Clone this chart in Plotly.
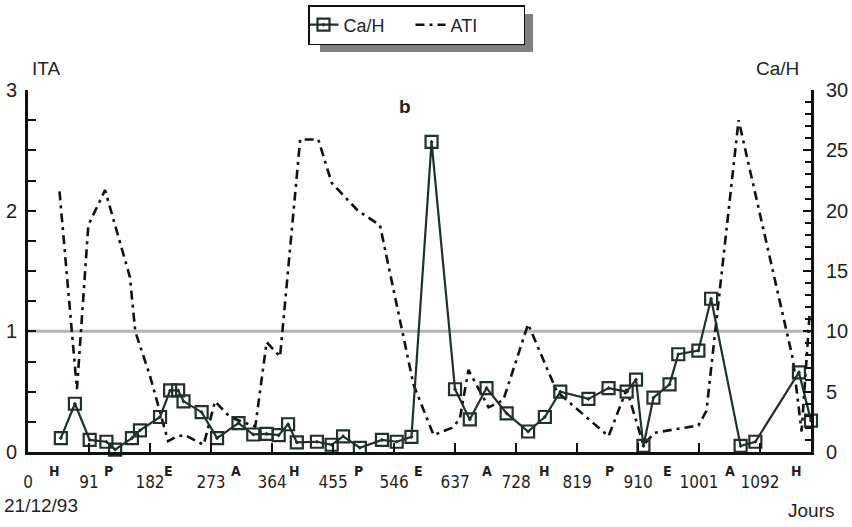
import plotly.graph_objects as go

# ---------------- data ----------------
ca_days = [49, 70, 92, 117, 130, 155, 167, 197, 212, 224, 232, 259, 282, 314, 336, 356,
           374, 388, 401, 431, 453, 470, 495, 528, 550, 572, 602, 637, 659, 684, 714, 746,
           771, 794, 836, 866, 893, 907, 918, 933, 957, 970, 1000, 1019, 1063, 1085, 1150, 1168]
ca_vals = [1.15, 4.0, 1.0, 0.85, 0.2, 1.15, 1.8, 2.9, 5.1, 5.1, 4.2, 3.3, 1.15, 2.4, 1.45, 1.5,
           1.4, 2.3, 0.8, 0.85, 0.6, 1.3, 0.35, 1.0, 0.85, 1.25, 25.7, 5.2, 2.7, 5.3, 3.2, 1.7,
           2.9, 5.0, 4.4, 5.3, 5.0, 6.0, 0.5, 4.5, 5.6, 8.1, 8.4, 12.7, 0.5, 0.85, 6.6, 2.6]

ati_days = [47, 73, 90, 115, 152, 160, 182, 209, 222, 234, 262, 279, 301, 339, 356, 376,
            406, 433, 453, 492, 525, 575, 605, 632, 644, 657, 687, 709, 746, 789, 866, 893,
            918, 935, 1000, 1012, 1060, 1141, 1154, 1166]
ati_vals = [2.16, 0.52, 1.88, 2.17, 1.45, 1.0, 0.63, 0.09, 0.13, 0.14, 0.06, 0.42, 0.29, 0.21, 0.91, 0.79,
            2.59, 2.59, 2.23, 2.0, 1.88, 0.56, 0.14, 0.2, 0.27, 0.68, 0.37, 0.43, 1.06, 0.5, 0.13, 0.52,
            0.06, 0.16, 0.22, 0.34, 2.75, 0.77, 0.17, 1.15]

day_ticks = [0, 91, 182, 273, 364, 455, 546, 637, 728, 819, 910, 1001, 1092]
day_labels = [str(v) for v in day_ticks]
season_pos = [40, 120, 209, 311, 398, 493, 582, 684, 771, 868, 954, 1047, 1147]
season_labels = ["H", "P", "E", "A", "H", "P", "E", "A", "H", "P", "E", "A", "H"]
ita_ticks = [0, 1, 2, 3]
ca_ticks = [0, 5, 10, 15, 20, 25, 30]
threshold = 1

# ---------------- figure ----------------
FONT = "Liberation Sans, Arial, sans-serif"
NARROW = "Liberation Sans Narrow, Arial Narrow, DejaVu Sans Condensed, sans-serif"
INK = "#1f1f1f"
CA_COL = "#1f302d"

fig = go.Figure()

fig.add_trace(go.Scatter(
    x=ca_days, y=ca_vals, name="Ca/H", yaxis="y2",
    mode="lines+markers",
    line=dict(color=CA_COL, width=2.2),
    marker=dict(symbol="square-open-dot", size=12, color=CA_COL, line=dict(width=2.2, color=CA_COL)),
    cliponaxis=False,
))
fig.add_trace(go.Scatter(
    x=ati_days, y=ati_vals, name="ATI", yaxis="y",
    mode="lines",
    line=dict(color="#111111", width=2.6, dash="9px,5px,3px,5px"),
))

# threshold line
fig.add_shape(type="line", xref="paper", x0=0, x1=1, yref="y", y0=threshold, y1=threshold,
              line=dict(color="#b4b4b4", width=3), layer="below")

# legend shadow
W, H = 852, 527
L, R, T, B = 28, 811, 90, 452
def px(x):
    return (x - L) / (R - L)
def py(y):
    return (B - y) / (B - T)
fig.add_shape(type="rect", xref="paper", yref="paper",
              x0=px(320), x1=px(533), y0=py(14), y1=py(52),
              fillcolor="#808080", line=dict(width=0), layer="above")

# season letters
for pos, lab in zip(season_pos, season_labels):
    fig.add_annotation(x=pos, xref="x", y=py(471), yref="paper", text="<b>" + lab + "</b>",
                       showarrow=False, font=dict(family=NARROW, size=14, color=INK),
                       xanchor="center", yanchor="middle")

# axis titles and text
fig.add_annotation(x=px(30), y=py(68), xref="paper", yref="paper", text="ITA", showarrow=False,
                   font=dict(family=FONT, size=19, color=INK), xanchor="left", yanchor="middle")
fig.add_annotation(x=px(801), y=py(68), xref="paper", yref="paper", text="Ca/H", showarrow=False,
                   font=dict(family=FONT, size=19, color=INK), xanchor="right", yanchor="middle")
fig.add_annotation(x=px(405), y=py(106), xref="paper", yref="paper", text="<b>b</b>", showarrow=False,
                   font=dict(family=FONT, size=19, color=INK), xanchor="center", yanchor="middle")
fig.add_annotation(x=px(2), y=py(505), xref="paper", yref="paper", text="21/12/93", showarrow=False,
                   font=dict(family=FONT, size=19, color=INK), xanchor="left", yanchor="middle")
fig.add_annotation(x=px(836), y=py(510), xref="paper", yref="paper", text="Jours", showarrow=False,
                   font=dict(family=FONT, size=19, color=INK), xanchor="right", yanchor="middle")

fig.update_layout(
    width=W, height=H,
    margin=dict(l=L, r=W - R, t=T, b=H - B, autoexpand=False),
    paper_bgcolor="white", plot_bgcolor="white",
    showlegend=True,
    legend=dict(orientation="h", x=px(308), y=py(5), xanchor="left", yanchor="top",
                bgcolor="white", bordercolor="#111111", borderwidth=1.5,
                font=dict(family=FONT, size=18, color=INK), itemwidth=30,
                entrywidth=68, entrywidthmode="pixels",
                tracegroupgap=0, indentation=-6),
    xaxis=dict(range=[0, 1168], tickvals=day_ticks, ticktext=day_labels, automargin=False,
               showline=True, linecolor="#111111", linewidth=3,
               ticks="inside", ticklen=9, tickwidth=1.5, tickcolor="#111111",
               showgrid=False, zeroline=False,
               tickfont=dict(family=NARROW, size=17, color=INK), ticklabelstandoff=13),
    yaxis=dict(range=[0, 3], tickvals=ita_ticks, showline=True, linecolor="#111111", linewidth=3,
               automargin=False,
               ticks="inside", ticklen=8, tickwidth=1.5, tickcolor="#111111",
               minor=dict(dtick=0.25, ticks="inside", ticklen=8, tickwidth=1.5, tickcolor="#111111"),
               showgrid=False, zeroline=False,
               tickfont=dict(family=FONT, size=20, color=INK), ticklabelstandoff=4),
    yaxis2=dict(range=[0, 30], tickvals=ca_ticks, overlaying="y", side="right", automargin=False,
                showline=True, linecolor="#111111", linewidth=3,
                ticks="inside", ticklen=8, tickwidth=1.5, tickcolor="#111111",
                minor=dict(dtick=1, ticks="inside", ticklen=6, tickwidth=1.5, tickcolor="#111111"),
                showgrid=False, zeroline=False,
                tickfont=dict(family=FONT, size=20, color=INK), ticklabelstandoff=8),
)

fig.write_html("out.html", config={"displayModeBar": False},
               post_script="document.body.style.margin='0';document.body.style.overflow='hidden';")
